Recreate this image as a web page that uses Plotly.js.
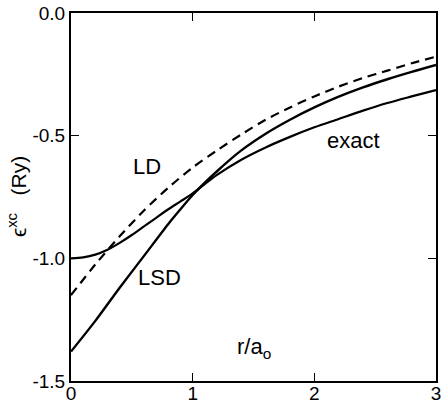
<!DOCTYPE html>
<html>
<head>
<meta charset="utf-8">
<script src="https://cdn.plot.ly/plotly-3.0.1.min.js"></script>
<style>html,body{margin:0;padding:0;background:#fff;}#chart{width:443px;height:404px;}</style>
</head>
<body>
<div id="chart"></div>
<script>
// r / a0
const rExact = [0, 0.1, 0.2, 0.3, 0.4, 0.5, 0.6, 0.7, 0.8, 0.9, 1.0, 1.2, 1.4, 1.6, 1.8, 2.0, 2.2, 2.4, 2.6, 2.8, 3.0];
const eExact = [-1.0, -0.996, -0.985, -0.965, -0.937, -0.905, -0.87, -0.835, -0.80, -0.768, -0.735, -0.66, -0.598, -0.548, -0.505, -0.466, -0.432, -0.398, -0.367, -0.34, -0.314];

const rLSD = [0, 0.2, 0.4, 0.6, 0.8, 0.9, 1.0, 1.2, 1.4, 1.6, 1.8, 2.0, 2.2, 2.4, 2.6, 2.8, 3.0];
const eLSD = [-1.38, -1.255, -1.12, -0.99, -0.86, -0.80, -0.742, -0.645, -0.56, -0.492, -0.435, -0.385, -0.341, -0.303, -0.27, -0.24, -0.212];

const rLD = [0, 0.2, 0.4, 0.6, 0.8, 1.0, 1.2, 1.4, 1.6, 1.8, 2.0, 2.2, 2.4, 2.6, 2.8, 3.0];
const eLD = [-1.15, -1.025, -0.91, -0.805, -0.712, -0.63, -0.56, -0.495, -0.435, -0.385, -0.34, -0.30, -0.265, -0.235, -0.205, -0.178];

const xTicks = [0, 1, 2, 3];
const xTickText = ["0", "1", "2", "3"];
const yTicks = [-1.5, -1.0, -0.5, 0.0];
const yTickText = ["-1.5", "-1.0", "-0.5", "0.0"];

const curveLabels = [
  {text: "LD", x: 0.625, y: -0.624},
  {text: "LSD", x: 0.73, y: -1.08},
  {text: "exact", x: 2.32, y: -0.518}
];

const FONT = "Liberation Sans, Arial, Helvetica, sans-serif";

const traces = [
  {x: rExact, y: eExact, mode: "lines", line: {color: "#000", width: 2.2, shape: "spline", smoothing: 0.8}, name: "exact"},
  {x: rLSD, y: eLSD, mode: "lines", line: {color: "#000", width: 2.4, shape: "spline", smoothing: 0.8}, name: "LSD"},
  {x: rLD, y: eLD, mode: "lines", line: {color: "#000", width: 2.2, dash: "9px,6px", shape: "spline", smoothing: 0.8}, name: "LD"}
];

const annotations = curveLabels.map(l => ({
  text: l.text, x: l.x, y: l.y, xref: "x", yref: "y", showarrow: false,
  font: {family: FONT, size: 22, color: "#000"}
}));
annotations.push({
  text: "r/a<sub>o</sub>", x: 1.5, y: -1.366, xref: "x", yref: "y", showarrow: false,
  font: {family: FONT, size: 22, color: "#000"}
});
annotations.push({
  text: "ϵ<sup>xc</sup>   (Ry)", x: 0, y: 0.5, xref: "paper", yref: "paper",
  xanchor: "center", yanchor: "middle", xshift: -54, textangle: -90, showarrow: false,
  font: {family: FONT, size: 21, color: "#000"}
});

const layout = {
  width: 443, height: 404,
  margin: {l: 71, r: 7, t: 13, b: 23},
  paper_bgcolor: "#fff", plot_bgcolor: "#fff",
  showlegend: false,
  xaxis: {
    range: [0, 3], tickvals: xTicks, ticktext: xTickText,
    ticks: "inside", ticklen: 8, tickwidth: 1.5, tickcolor: "#000",
    ticklabelstandoff: -6,
    showline: true, linecolor: "#000", linewidth: 2, mirror: "ticks",
    showgrid: false, zeroline: false,
    tickfont: {family: FONT, size: 19, color: "#000"}
  },
  yaxis: {
    range: [-1.5, 0], tickvals: yTicks, ticktext: yTickText,
    ticks: "inside", ticklen: 8, tickwidth: 1.5, tickcolor: "#000",
    showline: true, linecolor: "#000", linewidth: 2, mirror: "ticks",
    showgrid: false, zeroline: false,
    tickfont: {family: FONT, size: 19, color: "#000"}
  },
  annotations: annotations
};

Plotly.newPlot("chart", traces, layout, {displayModeBar: false, staticPlot: true});
</script>
</body>
</html>
